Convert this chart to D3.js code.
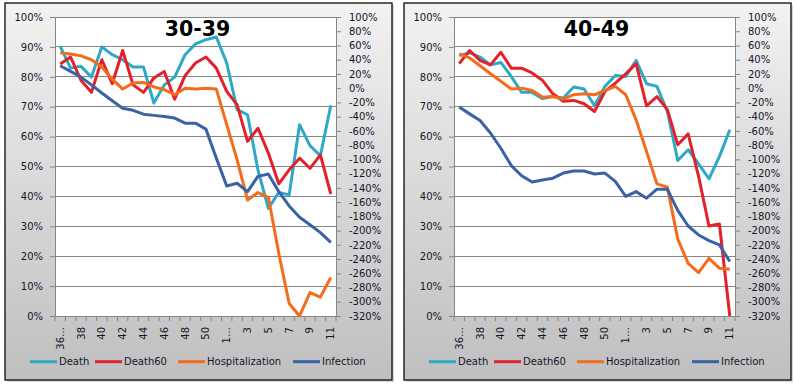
<!DOCTYPE html>
<html><head><meta charset="utf-8">
<script src="https://cdn.jsdelivr.net/npm/d3@7"></script>
<style>
body{margin:0;background:#fff;}
text{font-family:"DejaVu Sans",Verdana,sans-serif;fill:#15152a;}
</style>
</head><body>
<svg id="c" width="795" height="388"></svg>
<script>
// ---- data ----
const weeks = ["36 2020","37","38","39","40","41","42","43","44","45","46","47","48","49","50","51",
               "1 2021","2","3","4","5","6","7","8","9","10","11"];
const xTickLabels = ["36…","38","40","42","44","46","48","50","1…","3","5","7","9","11"];
const leftTicks = [0,10,20,30,40,50,60,70,80,90,100];
const rightTicks = [100,80,60,40,20,0,-20,-40,-60,-80,-100,-120,-140,-160,-180,-200,-220,-240,-260,-280,-300,-320];
const seriesNames = ["Death","Death60","Hospitalization","Infection"];
const seriesColors = ["#2fa8c8","#e2212b","#f36c1c","#3a63a5"];
const panelTitles = ["30-39","40-49"];

const death3039   = [90.2,82.9,83.5,79.9,90.0,87.4,85.7,83.3,83.3,71.2,77.3,79.9,87.4,91.0,92.4,93.3,84.6,69.0,67.3,48.9,36.0,41.3,40.5,64.0,57.0,53.6,70.5];
const death60_3039= [84.3,86.6,78.8,74.8,85.7,77.7,88.8,77.3,74.8,79.6,81.8,72.5,80.4,84.6,86.6,82.9,75.1,70.6,58.4,62.8,54.5,44.2,48.9,52.8,49.4,53.9,40.8];
const hosp3039    = [88.0,87.6,87.0,85.7,83.3,79.2,75.9,77.9,78.1,76.6,75.7,74.0,76.2,75.9,76.2,75.9,64.0,52.2,38.8,41.3,39.7,21.0,4.2,0.0,7.8,6.3,12.9];
const inf3039     = [83.7,81.8,79.9,77.3,74.6,72.0,69.5,68.8,67.5,67.1,66.7,66.2,64.5,64.5,62.5,52.8,43.5,44.4,41.6,46.7,47.5,41.6,36.8,33.0,30.5,27.9,24.6];

const death4049   = [87.1,88.0,86.6,84.0,84.8,80.1,74.8,74.8,72.7,73.4,72.9,76.6,75.9,70.3,76.8,80.4,80.1,85.5,77.7,76.8,68.4,52.0,55.6,50.9,45.9,53.3,62.3];
const death60_4049= [84.4,88.8,85.5,84.0,88.2,82.9,82.9,81.3,78.8,74.3,71.8,72.1,71.0,68.4,75.1,77.9,81.0,84.4,70.3,73.4,69.0,57.3,60.9,46.7,30.1,30.8,0.0];
const hosp4049    = [87.7,86.3,83.7,81.0,78.5,75.9,76.2,75.4,73.2,73.4,72.5,74.0,74.3,74.0,75.4,76.8,74.0,65.6,55.0,44.2,43.1,25.7,17.6,14.5,19.3,16.0,15.6];
const inf4049     = [69.9,67.6,65.4,61.2,56.1,50.3,46.9,44.8,45.5,46.1,47.8,48.5,48.5,47.5,47.8,45.0,40.0,41.6,39.4,42.4,42.4,35.3,30.1,27.1,25.2,23.8,18.2];

const panelData = [[death3039,death60_3039,hosp3039,inf3039],[death4049,death60_4049,hosp4049,inf4049]];

// ---- drawing ----
const svg = d3.select("#c");
const defs = svg.append("defs");
const grad = defs.append("linearGradient").attr("id","bg").attr("x1",0).attr("y1",0).attr("x2",0).attr("y2",1);
grad.append("stop").attr("offset","0%").attr("stop-color","#f2f2f2");
grad.append("stop").attr("offset","100%").attr("stop-color","#bfbfbf");

const boxW = 387, boxH = 377, boxY = 3;
const boxXs = [5, 404];
const plotL = 50, plotR = 331, plotT = 14, plotB = 313;
const gridColor = "#868686";

panelTitles.forEach((title, pi) => {
  const g = svg.append("g").attr("transform", `translate(${boxXs[pi]},${boxY})`);
  g.append("rect").attr("x",2).attr("y",2).attr("width",boxW).attr("height",boxH).attr("fill","#d6d6d6");
  g.append("rect").attr("x",0).attr("y",0).attr("width",boxW).attr("height",boxH)
    .attr("fill","url(#bg)").attr("stroke","#1a1a1a").attr("stroke-width",1.4);

  const x = d3.scaleBand().domain(weeks).range([plotL, plotR]).padding(0);
  const yL = d3.scaleLinear().domain([0,100]).range([plotB, plotT]);
  const yR = d3.scaleLinear().domain([-320,100]).range([plotB, plotT]);

  g.append("rect").attr("x",plotL).attr("y",plotT).attr("width",plotR-plotL).attr("height",plotB-plotT).attr("fill","#fff");

  // gridlines
  g.append("g").selectAll("line").data(leftTicks).join("line")
    .attr("x1",plotL).attr("x2",plotR).attr("y1",d=>yL(d)).attr("y2",d=>yL(d))
    .attr("stroke",gridColor).attr("stroke-width",1).attr("shape-rendering","crispEdges");

  // left axis
  const la = g.append("g").attr("transform",`translate(${plotL},0)`)
    .call(d3.axisLeft(yL).tickValues(leftTicks).tickSize(5).tickSizeOuter(0).tickPadding(7).tickFormat(d=>d+"%"));
  // right axis
  const ra = g.append("g").attr("transform",`translate(${plotR},0)`)
    .call(d3.axisRight(yR).tickValues(rightTicks).tickSize(5).tickSizeOuter(0).tickPadding(8).tickFormat(d=>d+"%"));
  // bottom axis
  const evenWeeks = weeks.filter((w,i)=>i%2===0);
  const ba = g.append("g").attr("transform",`translate(0,${plotB})`)
    .call(d3.axisBottom(x).tickValues(evenWeeks).tickSize(0).tickSizeOuter(0)
      .tickFormat(w=>xTickLabels[evenWeeks.indexOf(w)]));
  ba.selectAll("text").attr("transform","rotate(-90)").attr("x",-11).attr("y",0)
    .attr("dy","0.35em").attr("text-anchor","end");
  // category boundary ticks
  const bounds = weeks.map(w=>x(w)).concat([plotR]);
  ba.append("g").selectAll("line").data(bounds).join("line")
    .attr("x1",d=>d).attr("x2",d=>d).attr("y1",0).attr("y2",5).attr("stroke",gridColor);

  [la,ra,ba].forEach(a=>{
    a.selectAll("path.domain").attr("stroke",gridColor);
    a.selectAll(".tick line").attr("stroke",gridColor);
    a.selectAll("text").attr("font-size",10).attr("font-family","DejaVu Sans, Verdana, sans-serif").attr("fill","#15152a");
  });

  // lines
  const line = d3.line().x((d,i)=>x(weeks[i])+x.bandwidth()/2).y(d=>yL(d)).curve(d3.curveLinear);
  panelData[pi].forEach((vals, si) => {
    g.append("path").datum(vals).attr("d",line).attr("fill","none")
      .attr("stroke",seriesColors[si]).attr("stroke-width",3)
      .attr("stroke-linejoin","round").attr("stroke-linecap","butt");
  });

  // title
  g.append("text").attr("x",(plotL+plotR)/2+2).attr("y",32.5).attr("text-anchor","middle")
    .attr("font-family","'Liberation Sans', Arial, sans-serif").attr("font-weight","bold")
    .attr("font-size",20.5).style("fill","#000").text(title);

  // legend
  const legX = [25, 90, 173, 288];
  const legY = 358.7;
  seriesNames.forEach((n, si) => {
    g.append("line").attr("x1",legX[si]).attr("x2",legX[si]+27).attr("y1",legY).attr("y2",legY)
      .attr("stroke",seriesColors[si]).attr("stroke-width",3);
    g.append("text").attr("x",legX[si]+29).attr("y",legY).attr("dy","0.35em")
      .attr("font-size",10).text(n);
  });
});
</script>
</body></html>
